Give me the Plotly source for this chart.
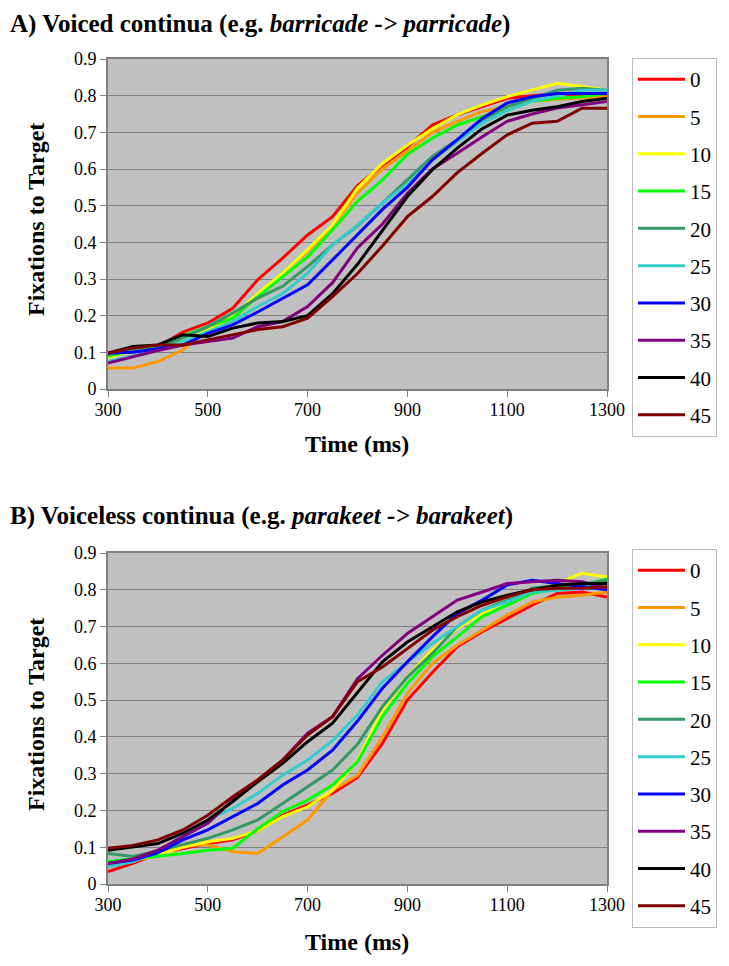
import plotly.graph_objects as go

time_ms = [300, 350, 400, 450, 500, 550, 600, 650, 700, 750, 800,
           850, 900, 950, 1000, 1050, 1100, 1150, 1200, 1250, 1300]

steps = ["0", "5", "10", "15", "20", "25", "30", "35", "40", "45"]
colors = ["#FF0000", "#FF9900", "#FFFF00", "#00FF00", "#339966",
          "#33CCCC", "#0000FF", "#800080", "#000000", "#800000"]

# Panel A: voiced continua
a_0  = [0.094, 0.105, 0.115, 0.155, 0.180, 0.220, 0.298, 0.357, 0.420, 0.470, 0.555, 0.610, 0.660, 0.720, 0.748, 0.770, 0.793, 0.800, 0.806, 0.800, 0.800]
a_5  = [0.057, 0.057, 0.075, 0.107, 0.162, 0.193, 0.252, 0.316, 0.375, 0.443, 0.535, 0.600, 0.648, 0.700, 0.730, 0.757, 0.770, 0.785, 0.790, 0.793, 0.797]
a_10 = [0.085, 0.105, 0.110, 0.130, 0.160, 0.198, 0.260, 0.316, 0.380, 0.448, 0.548, 0.615, 0.665, 0.710, 0.748, 0.775, 0.797, 0.815, 0.834, 0.825, 0.815]
a_15 = [0.089, 0.105, 0.115, 0.145, 0.170, 0.193, 0.252, 0.307, 0.360, 0.434, 0.512, 0.570, 0.640, 0.684, 0.720, 0.743, 0.760, 0.785, 0.793, 0.797, 0.806]
a_20 = [0.094, 0.105, 0.110, 0.140, 0.170, 0.207, 0.248, 0.280, 0.334, 0.393, 0.445, 0.507, 0.570, 0.634, 0.680, 0.734, 0.770, 0.793, 0.815, 0.820, 0.815]
a_25 = [0.075, 0.089, 0.105, 0.130, 0.157, 0.184, 0.225, 0.260, 0.316, 0.393, 0.447, 0.507, 0.560, 0.625, 0.675, 0.725, 0.760, 0.785, 0.800, 0.815, 0.815]
a_30 = [0.098, 0.100, 0.110, 0.120, 0.152, 0.175, 0.210, 0.248, 0.284, 0.352, 0.420, 0.490, 0.550, 0.625, 0.680, 0.738, 0.780, 0.797, 0.806, 0.806, 0.806]
a_35 = [0.071, 0.089, 0.105, 0.120, 0.130, 0.139, 0.170, 0.184, 0.225, 0.290, 0.385, 0.450, 0.534, 0.600, 0.643, 0.688, 0.730, 0.750, 0.766, 0.775, 0.784]
a_40 = [0.098, 0.116, 0.120, 0.148, 0.143, 0.166, 0.180, 0.184, 0.200, 0.260, 0.340, 0.434, 0.525, 0.598, 0.657, 0.710, 0.747, 0.760, 0.770, 0.784, 0.793]
a_45 = [0.098, 0.112, 0.120, 0.120, 0.134, 0.148, 0.162, 0.170, 0.193, 0.252, 0.315, 0.390, 0.470, 0.525, 0.590, 0.643, 0.693, 0.725, 0.730, 0.766, 0.766]

# Panel B: voiceless continua
b_0  = [0.034, 0.056, 0.083, 0.097, 0.110, 0.120, 0.145, 0.187, 0.215, 0.246, 0.290, 0.382, 0.500, 0.575, 0.645, 0.686, 0.722, 0.758, 0.790, 0.794, 0.780]
b_5  = [0.060, 0.065, 0.075, 0.106, 0.106, 0.088, 0.083, 0.129, 0.174, 0.255, 0.295, 0.400, 0.518, 0.600, 0.650, 0.690, 0.731, 0.767, 0.780, 0.785, 0.794]
b_10 = [0.056, 0.065, 0.079, 0.100, 0.115, 0.124, 0.145, 0.183, 0.210, 0.255, 0.335, 0.473, 0.563, 0.636, 0.695, 0.736, 0.770, 0.795, 0.817, 0.845, 0.835]
b_15 = [0.061, 0.068, 0.074, 0.083, 0.092, 0.097, 0.150, 0.197, 0.228, 0.269, 0.332, 0.455, 0.545, 0.618, 0.672, 0.727, 0.758, 0.790, 0.804, 0.810, 0.830]
b_20 = [0.083, 0.075, 0.090, 0.106, 0.124, 0.147, 0.174, 0.219, 0.264, 0.310, 0.380, 0.482, 0.563, 0.627, 0.700, 0.745, 0.772, 0.804, 0.812, 0.815, 0.826]
b_25 = [0.047, 0.060, 0.088, 0.133, 0.174, 0.206, 0.246, 0.296, 0.337, 0.390, 0.460, 0.550, 0.604, 0.654, 0.700, 0.745, 0.767, 0.794, 0.799, 0.805, 0.817]
b_30 = [0.056, 0.065, 0.085, 0.120, 0.147, 0.183, 0.219, 0.269, 0.310, 0.364, 0.443, 0.532, 0.604, 0.672, 0.736, 0.772, 0.813, 0.826, 0.817, 0.810, 0.800]
b_35 = [0.056, 0.068, 0.092, 0.129, 0.165, 0.228, 0.283, 0.337, 0.410, 0.455, 0.558, 0.622, 0.681, 0.727, 0.772, 0.794, 0.817, 0.822, 0.826, 0.822, 0.804]
b_40 = [0.092, 0.100, 0.110, 0.138, 0.174, 0.224, 0.278, 0.328, 0.387, 0.437, 0.520, 0.604, 0.658, 0.700, 0.740, 0.767, 0.785, 0.800, 0.812, 0.817, 0.817]
b_45 = [0.097, 0.105, 0.120, 0.147, 0.187, 0.237, 0.283, 0.337, 0.405, 0.455, 0.550, 0.590, 0.640, 0.690, 0.727, 0.758, 0.781, 0.800, 0.804, 0.804, 0.808]

panel_a = [a_0, a_5, a_10, a_15, a_20, a_25, a_30, a_35, a_40, a_45]
panel_b = [b_0, b_5, b_10, b_15, b_20, b_25, b_30, b_35, b_40, b_45]

x_ticks = [300, 500, 700, 900, 1100, 1300]

FONT = "Liberation Serif"
W, H = 729, 966
OFF = 8  # page body margin that shifts the figure

fig = go.Figure()
for i, name in enumerate(steps):
    fig.add_trace(go.Scatter(x=time_ms, y=panel_a[i], mode="lines", name=name,
                             line=dict(color=colors[i], width=3),
                             xaxis="x", yaxis="y", legend="legend",
                             legendgroup="a" + name))
for i, name in enumerate(steps):
    fig.add_trace(go.Scatter(x=time_ms, y=panel_b[i], mode="lines", name=name,
                             line=dict(color=colors[i], width=3),
                             xaxis="x2", yaxis="y2", legend="legend2",
                             legendgroup="b" + name))

def px_x(p):
    return (p - OFF) / W

def px_y(p):
    return 1 - (p - OFF) / H

xdom = [px_x(108), px_x(607)]
ydomA = [px_y(389), px_y(59)]
ydomB = [px_y(884), px_y(553)]

axis_common = dict(showgrid=False, showline=True, linecolor="#808080", linewidth=2,
                   mirror=True, ticks="outside", ticklen=6, tickcolor="#808080",
                   automargin=False,
                   tickfont=dict(family=FONT, size=18, color="black"))

xaxis_cfg = dict(axis_common, range=[300, 1300], tickvals=x_ticks, domain=xdom,
                 ticklabelstandoff=-3)
yaxis_cfg = dict(axis_common, range=[0, 0.9], dtick=0.1, tick0=0)
yaxis_cfg.update(showgrid=True, gridcolor="#808080", gridwidth=1)

legend_common = dict(bgcolor="white", bordercolor="#BBBBBB", borderwidth=1,
                     font=dict(family=FONT, size=21, color="black"),
                     xanchor="left", yanchor="top", traceorder="grouped",
                     tracegroupgap=7, itemwidth=47)

fig.update_layout(
    width=W, height=H, autosize=False,
    margin=dict(l=0, r=0, t=0, b=0, pad=0, autoexpand=False),
    font=dict(family=FONT, color="black"),
    paper_bgcolor="white",
    plot_bgcolor="#C0C0C0",
    showlegend=True,
    xaxis=dict(xaxis_cfg, anchor="y"),
    yaxis=dict(yaxis_cfg, domain=ydomA, anchor="x"),
    xaxis2=dict(xaxis_cfg, anchor="y2"),
    yaxis2=dict(yaxis_cfg, domain=ydomB, anchor="x2"),
    legend=dict(legend_common, x=px_x(632), y=px_y(58)),
    legend2=dict(legend_common, x=px_x(632), y=px_y(549)),
)

ann = []
ann.append(dict(text="<b>A) Voiced continua (e.g. <i>barricade -> parricade</i>)</b>",
                x=px_x(8), y=1.0, xanchor="left", yanchor="top"))
ann.append(dict(text="<b>B) Voiceless continua (e.g. <i>parakeet -> barakeet</i>)</b>",
                x=px_x(8), y=px_y(516), xanchor="left", yanchor="middle"))
for a in ann:
    a["font"] = dict(family=FONT, size=25, color="black")
for yc, yt in [(220, 444), (715, 942)]:
    ann.append(dict(text="<b>Fixations to Target</b>", x=px_x(36), y=px_y(yc),
                    xanchor="center", yanchor="middle", textangle=-90,
                    font=dict(family=FONT, size=24, color="black")))
    ann.append(dict(text="<b>Time (ms)</b>", x=px_x(357), y=px_y(yt),
                    xanchor="center", yanchor="middle",
                    font=dict(family=FONT, size=24, color="black")))
for a in ann:
    a.update(xref="paper", yref="paper", showarrow=False)
fig.update_layout(annotations=ann)

fig.write_html("out.html")
